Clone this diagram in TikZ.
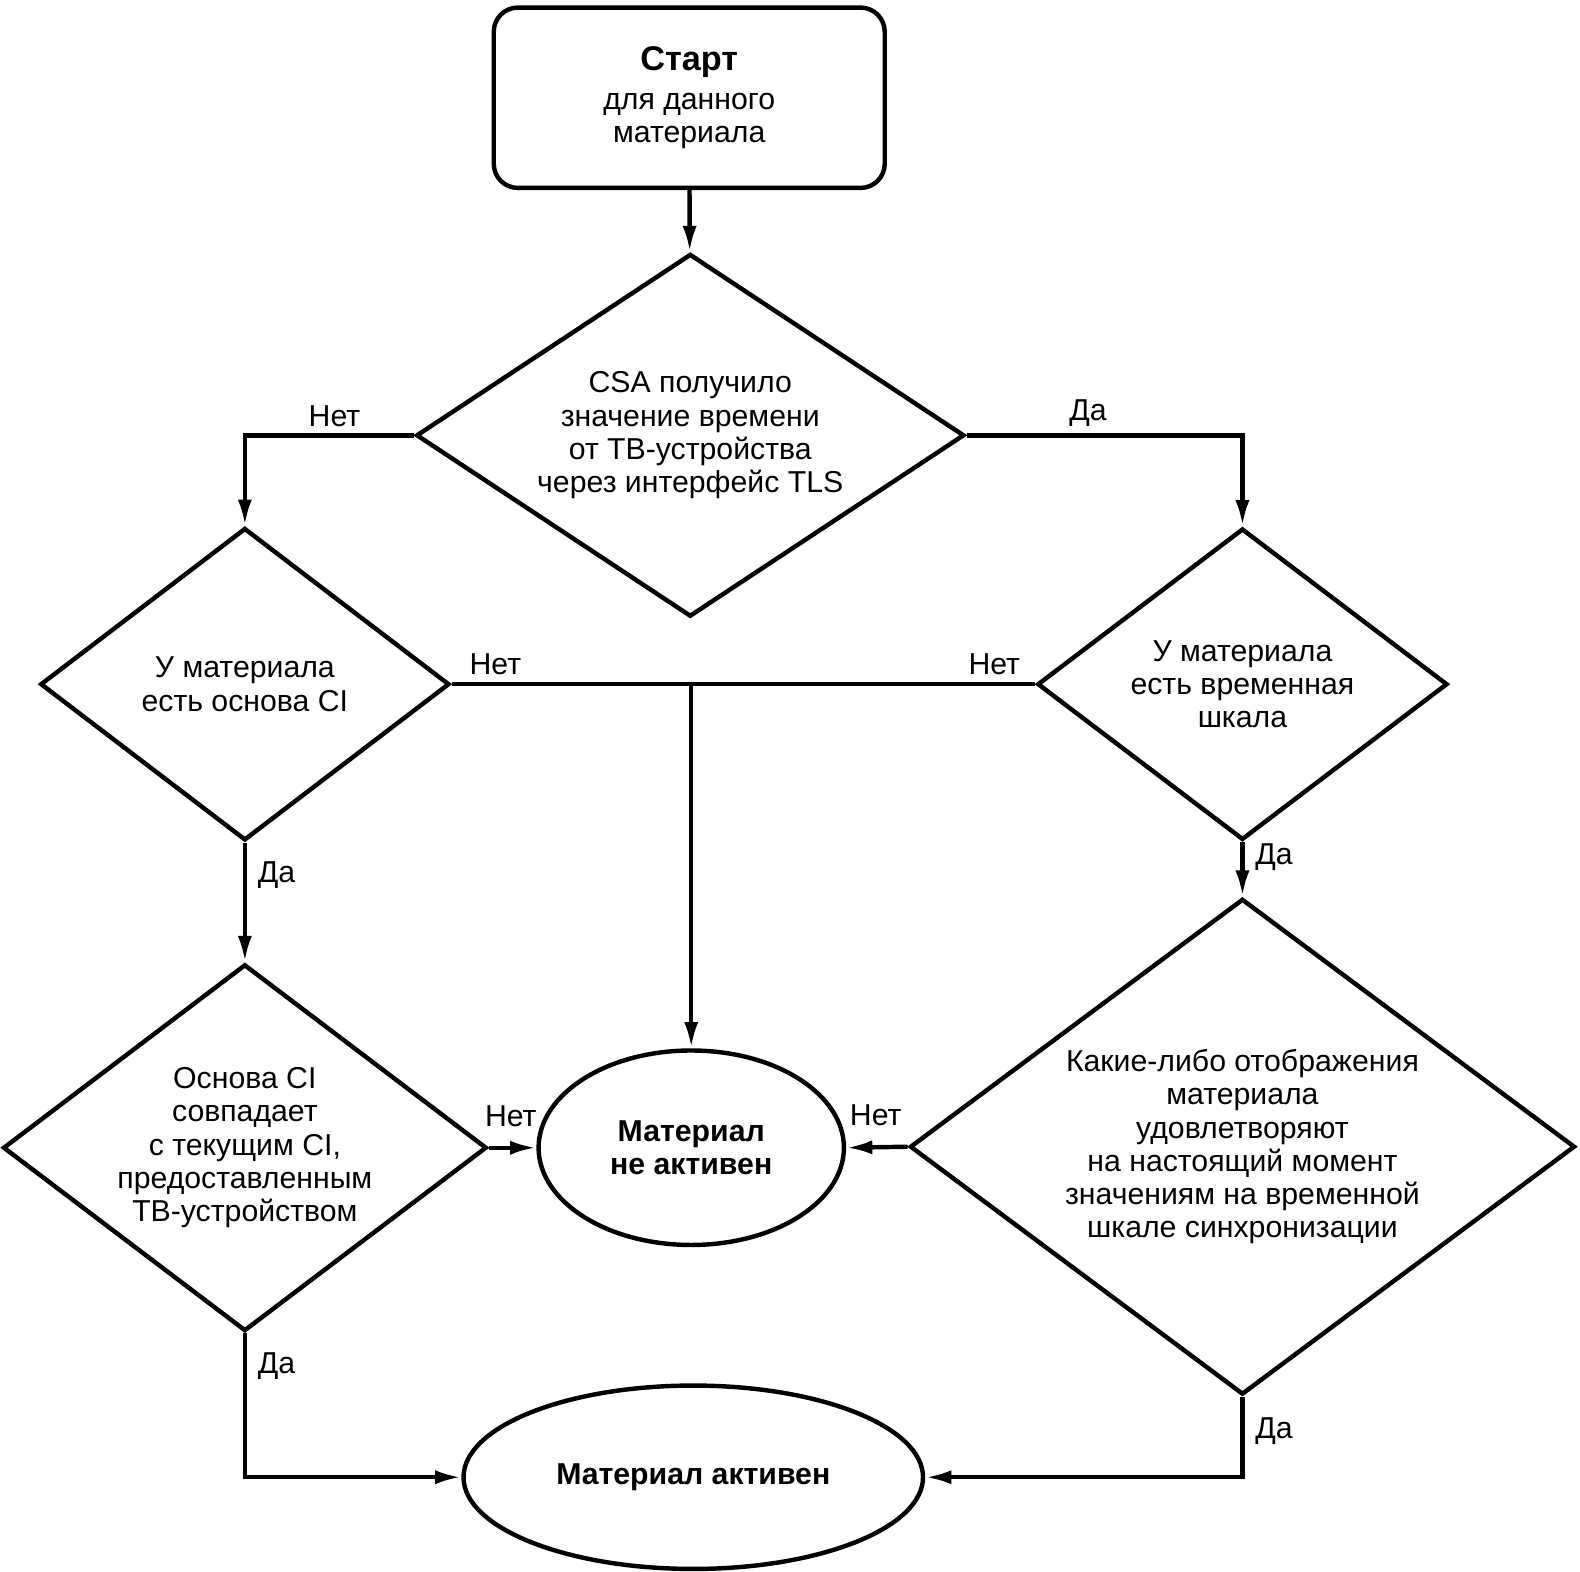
\documentclass[tikz,border=0pt]{standalone}
\usepackage{fontspec}
\setmainfont{Liberation Sans}
\usetikzlibrary{shapes.geometric, arrows.meta}
\tikzset{
    start/.style = {draw, rectangle, rounded corners = 12pt, align = center, minimum width = 194pt, minimum height = 89.5pt},
    romb/.style = {draw, diamond, inner sep = -10pt, align = center},
    oval/.style = {draw, ellipse, inner sep = 0pt, align = center, font = \fontsize{15}{16.5}\selectfont\bfseries},
    pil/.style = {-{Latex[length = 13pt, width = 7pt]}},
}
\begin{document}
\begin{tikzpicture}[x = 0.5pt, y = -0.5pt, line width = 2.2pt, font = \fontsize{15}{16.5}\selectfont]
                \useasboundingbox (0, 0) rectangle (1568, 1560);
                \draw
                    node (A) [start] at (684, 97) {{\fontsize{17}{20}\selectfont\bfseries Старт}\\[3pt]для данного\\материала}
                    node (B) [romb, aspect = 1.51, minimum width = 272pt, minimum height = 180pt] at (685, 432) {CSA получило\\значение времени\\от ТВ-устройства\\через интерфейс TLS}
                    node (C) [romb, aspect = 1.31, minimum width = 203pt, minimum height = 155pt] at (243, 679) {У материала\\есть основа CI}
                    node (D) [romb, aspect = 1.32, minimum width = 203.5pt, minimum height = 154.5pt] at (1233, 679) {У материала\\есть временная\\шкала}
                    node (E) [romb, aspect = 1.32, minimum width = 240pt, minimum height = 182pt] at (243, 1139) {Основа CI\\совпадает\\с текущим CI,\\предоставленным\\ТВ-устройством}
                    node (F) [romb, aspect = 1.34, minimum width = 330pt, minimum height = 246pt] at (1233, 1138) {Какие-либо отображения\\материала\\удовлетворяют\\на настоящий момент\\значениям на временной\\шкале синхронизации}
                    node (G) [oval, minimum width = 151.5pt, minimum height = 96.5pt] at (686, 1139) {Материал\\не активен}
                    node (H) [oval, minimum width = 228pt, minimum height = 91pt] at (688, 1466) {Материал активен};
                \draw [pil] (A) -- (B);
                \draw [pil] (B.west) -| node [pos = 0.235, above] {Нет} (C.north);
                \draw [pil] (B.east) -| node [pos = 0.22, above] {Да} (D.north);
                \draw (C.east) -- node [pos = 0.075, above] {Нет} node [pos = 0.93, above] {Нет} (D.west);
                \draw [pil] (C.east -| G.north) -- (G.north);
                \draw [pil] (C.south) -- node [pos = 0.27, right = 2pt] {Да} (E.north);
                \draw [pil] (D.south) -- node [pos = 0.28, right = 2pt] {Да} (F.north);
                \draw [pil] (E.east) -- node [pos = 0.46, above = 6pt] {Нет} (G.west);
                \draw [pil] (F.west) -- node [pos = 0.52, above = 6pt] {Нет} (G.east);
                \draw [pil] (E.south) |- node [pos = 0.115, right = 2pt] {Да} (H.west);
                \draw [pil] (F.south) |- node [pos = 0.215, right = 2pt] {Да} (H.east);
            \end{tikzpicture}
\end{document}
